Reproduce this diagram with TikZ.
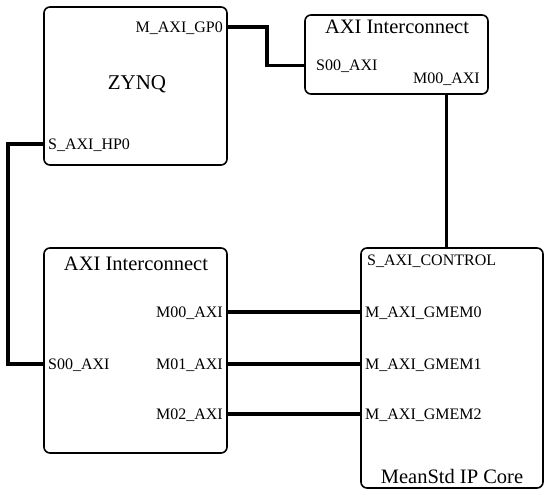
\documentclass[tikz,border=0pt]{standalone}
\usepackage{fontspec}
\setmainfont{Liberation Serif}
\usetikzlibrary{positioning, calc}

\begin{document}
\begin{tikzpicture}[
  x=1pt, y=-1pt,
  block/.style={draw, line width=1.6pt, rounded corners=6pt, inner sep=0pt},
  port/.style={inner sep=1pt, text depth=0pt, font=\fontsize{16}{17}\selectfont},
  title/.style={inner sep=1pt, text depth=0pt, font=\fontsize{20.5}{21}\selectfont},
  wire/.style={line width=3.5pt}
]
  \useasboundingbox (0,0) rectangle (550,497);

  % blocks
  \node[block, minimum width=183pt, minimum height=158pt] (zynq) at (135.5,86) {};
  \node[block, minimum width=183pt, minimum height=79pt] (ic1) at (396.5,54.5) {};
  \node[block, minimum width=183pt, minimum height=205pt] (ic2) at (135.5,350.5) {};
  \node[block, minimum width=182pt, minimum height=240pt] (core) at (452,368) {};

  % titles
  \node[title, font=\fontsize{21}{22}\selectfont] (zynqt) at (137,83) {ZYNQ};
  \node[title] (ic1t) at (397,27) {AXI Interconnect};
  \node[title] (ic2t) at (136,264) {AXI Interconnect};
  \node[title] (coret) at (452,476) {MeanStd IP Core};

  % ports
  \node[port, anchor=east] (gp0) at (224,27) {M\_AXI\_GP0};
  \node[port, anchor=west] (hp0) at (47,144) {S\_AXI\_HP0};
  \node[port, anchor=west] (ic1s) at (315,65.5) {S00\_AXI};
  \node[port, anchor=east] (ic1m) at (481,78) {M00\_AXI};
  \node[port, anchor=west] (ic2s) at (47,364) {S00\_AXI};
  \node[port, anchor=west] (ctrl) at (366,260.5) {S\_AXI\_CONTROL};
  \foreach \i/\y in {0/312, 1/364, 2/414} {
    \node[port, anchor=east] (ic2m\i) at (224,\y) {M0\i\_AXI};
    \node[port, anchor=west] (gmem\i) at (364,\y) {M\_AXI\_GMEM\i};
  }

  % connections
  \draw[wire] (zynq.east |- gp0) -- ++(39,0) |- (ic1.west |- ic1s);
  \draw[wire] (ic1m |- ic1.south) -- (ic1m |- core.north);
  \draw[wire] (zynq.west |- hp0) -- ++(-35,0) |- (ic2.west |- ic2s);
  \foreach \i in {0,1,2}
    \draw[wire] (ic2.east |- ic2m\i) -- (core.west |- gmem\i);
\end{tikzpicture}
\end{document}
